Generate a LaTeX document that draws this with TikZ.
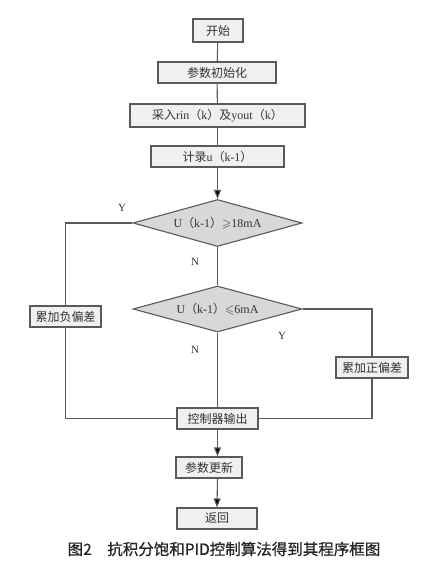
\documentclass[tikz,border=0pt]{standalone}
\usepackage{fontspec}
\usepackage{amssymb}
\setmainfont{Liberation Serif}
\newfontfamily\cjk{Noto Sans CJK SC}
\newfontfamily\capfont[FakeBold=0.8]{Noto Sans CJK SC}
\usetikzlibrary{shapes.geometric,arrows.meta}
\definecolor{linec}{HTML}{5A5A5A}
\definecolor{boxfill}{HTML}{F0F0F0}
\definecolor{diafill}{HTML}{D8D8D8}
\begin{document}
\begin{tikzpicture}[x=1pt,y=-1pt,
  flow/.style={draw=linec,line width=1.1pt},
  arr/.style={flow,-{Triangle[length=9pt,width=7pt,fill=black]}},
  procbox/.style={draw=linec,line width=1.1pt,fill=boxfill,inner sep=0pt,
     font=\fontsize{12}{14}\selectfont,text=black!80},
  decision/.style={diamond,aspect=3.6,draw=linec,line width=1.1pt,fill=diafill,inner sep=0pt,
     font=\fontsize{12}{14}\selectfont,text=black!80},
  yn/.style={font=\fontsize{11}{13}\selectfont,text=black!80}
]
\useasboundingbox (0,0) rectangle (426,566);
\fill[white] (0,0) rectangle (426,566);

\node[procbox,minimum width=50pt,minimum height=23pt] (start) at (218,30.5) {\cjk 开始};
\node[procbox,minimum width=118pt,minimum height=21pt] (init) at (217,72.5) {\cjk 参数初始化};
\node[procbox,minimum width=175pt,minimum height=23pt] (sample) at (217.5,115.5)
  {{\cjk 采入}rin{\cjk （}k{\cjk ）及}yout{\cjk （}k{\cjk ）}};
\node[procbox,minimum width=133pt,minimum height=21pt] (rec) at (217.5,156.5)
  {{\cjk 计录}u{\cjk （}k-1{\cjk ）}};
\node[decision,minimum width=169pt,minimum height=47pt] (d1) at (217.5,223)
  {U{\cjk （}k-1{\cjk ）}$\geqslant$18mA};
\node[decision,minimum width=169pt,minimum height=46pt] (d2) at (217.5,309)
  {U{\cjk （}k-1{\cjk ）}$\leqslant$6mA};
\node[procbox,minimum width=71pt,minimum height=21pt] (neg) at (65.5,316.5) {\cjk 累加负偏差};
\node[procbox,minimum width=72pt,minimum height=21pt] (pos) at (372,367.5) {\cjk 累加正偏差};
\node[procbox,minimum width=81pt,minimum height=21pt] (out) at (217.5,418.5) {\cjk 控制器输出};
\node[procbox,minimum width=66pt,minimum height=21pt] (upd) at (209,467.5) {\cjk 参数更新};
\node[procbox,minimum width=80pt,minimum height=21pt] (ret) at (217,518.5) {\cjk 返回};

\node[yn] (y1) at (122,208) {Y};
\node[yn] (n1) at (195,262) {N};
\node[yn] (y2) at (282,336) {Y};
\node[yn] (n2) at (195,350) {N};

\draw[flow] (start) -- (init);
\draw[flow] (init) -- (sample);
\draw[flow] (sample) -- (rec);
\draw[arr] (rec) -- (d1);
\draw[flow] (d1) -- (d2);
\draw[flow] (d2) -- (out);
\draw[flow] (d1.west) -| (neg.north);
\draw[flow] (neg.south) |- (out.west);
\draw[flow] (d2.east) -| (pos.north);
\draw[flow] (pos.south) |- (out.east);
\draw[arr] (out.south) -- (out.south |- upd.north);
\draw[arr] (out.south |- upd.south) -- (ret.north);

\node[font=\capfont\fontsize{15.5}{17}\selectfont,text=black!85] (cap) at (224,549)
  {图2\hspace{1em}抗积分饱和PID控制算法得到其程序框图};
\end{tikzpicture}
\end{document}
